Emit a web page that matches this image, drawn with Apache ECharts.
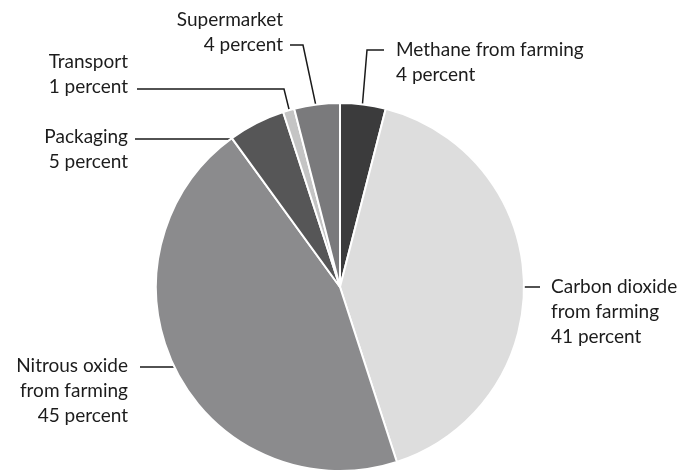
<!DOCTYPE html>
<html>
<head>
<meta charset="utf-8">
<script src="https://cdn.jsdelivr.net/npm/echarts@6/dist/echarts.min.js"></script>
<style>
  html, body { margin: 0; padding: 0; background: #fff; }
  #chart { width: 683px; height: 474px; }
</style>
</head>
<body>
<div id="chart"></div>
<script>
// Sources of greenhouse gas, clockwise from 12 o'clock
const categories = [
  'Methane from farming',
  'Carbon dioxide\nfrom farming',
  'Nitrous oxide\nfrom farming',
  'Packaging',
  'Transport',
  'Supermarket'
];
const shares = [4, 41, 45, 5, 1, 4];
const sliceColors = ['#3b3b3c', '#dddddd', '#8b8b8d', '#565657', '#c4c4c4', '#7a7a7c'];

// Label placement: anchor of the text block, side of the leader line, elbow
const labelSpots = [
  { x: 396, y: 37, align: 'left',  lineY: 50,  lineEnd: 384, elbowX: 367 },
  { x: 551, y: 274, align: 'left', lineY: 287, lineEnd: 540, elbowX: null },
  { x: 128, y: 353, align: 'right', lineY: 367, lineEnd: 140, elbowX: null },
  { x: 128, y: 124, align: 'right', lineY: 139, lineEnd: 135, elbowX: 250 },
  { x: 128, y: 49, align: 'right', lineY: 89, lineEnd: 137, elbowX: 284 },
  { x: 283, y: 7, align: 'right', lineY: 45, lineEnd: 290, elbowX: 303 }
];

const center = [340, 287];
const radius = 184;

// Mid angle of each slice (radians, clockwise from top)
const total = shares.reduce((a, b) => a + b, 0);
const midAngles = [];
let acc = 0;
shares.forEach(v => {
  midAngles.push(((acc + v / 2) / total) * Math.PI * 2);
  acc += v;
});

const chart = echarts.init(document.getElementById('chart'), null, { renderer: 'canvas' });
chart.setOption({
  animation: false,
  backgroundColor: '#ffffff',
  series: [{
    type: 'pie',
    center: center,
    radius: radius,
    startAngle: 90,
    clockwise: true,
    silent: true,
    itemStyle: { borderColor: '#ffffff', borderWidth: 2 },
    label: {
      show: true,
      color: '#1c1c1c',
      fontFamily: 'Lato',
      fontSize: 19,
      lineHeight: 25,
      overflow: 'none',
      width: 300,
      formatter: p => p.name + '\n' + p.value + ' percent'
    },
    labelLine: {
      show: true,
      lineStyle: { color: '#1a1a1a', width: 1.5 }
    },
    labelLayout: function (params) {
      const i = params.dataIndex;
      const s = labelSpots[i];
      const a = midAngles[i];
      const r = radius * 0.92;
      const inside = [center[0] + r * Math.sin(a), center[1] - r * Math.cos(a)];
      const pts = [inside];
      if (s.elbowX !== null) {
        pts.push([s.elbowX, s.lineY]);
      } else {
        pts.push([inside[0], s.lineY]);
      }
      pts.push([s.lineEnd, s.lineY]);
      return {
        x: s.x,
        y: s.y,
        align: s.align,
        verticalAlign: 'top',
        labelLinePoints: pts
      };
    },
    data: categories.map((name, i) => ({
      name: name,
      value: shares[i],
      itemStyle: { color: sliceColors[i] }
    }))
  }]
});
</script>
</body>
</html>
